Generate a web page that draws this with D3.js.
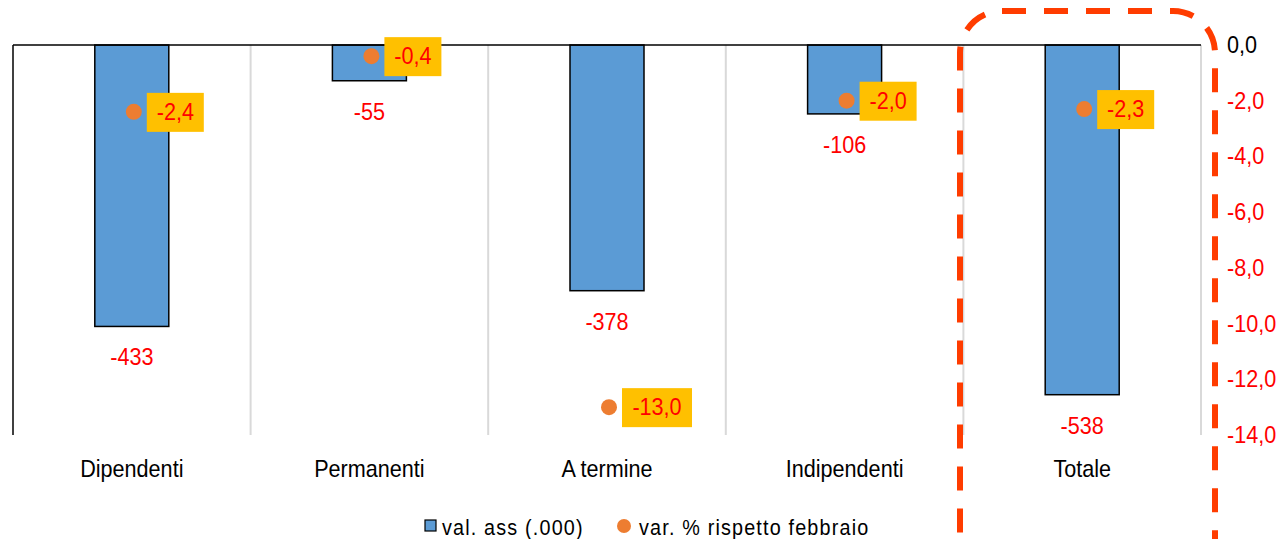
<!DOCTYPE html>
<html>
<head>
<meta charset="utf-8">
<script src="https://cdn.jsdelivr.net/npm/d3@7"></script>
<style>
  body { margin: 0; background: #fff; }
  svg { display: block; font-family: "Liberation Sans", Arial, sans-serif; }
</style>
</head>
<body>
<svg id="chart"></svg>
<script>
const width = 1280;
const height = 539;

// data
const categories = ["Dipendenti", "Permanenti", "A termine", "Indipendenti", "Totale"];
const absValues = [-433, -55, -378, -106, -538];
const pctValues = [-2.4, -0.4, -13.0, -2.0, -2.3];
const rightTicks = [0, -2, -4, -6, -8, -10, -12, -14];
const legendLabels = ["val. ass (.000)", "var. % rispetto febbraio"];

const fmt = v => d3.format(".1f")(v).replace(".", ",").replace("−", "-");
// the original uses a narrow face, so squeeze the text horizontally
const narrow = 0.9;
const place = (px, py) => `translate(${px},${py}) scale(${narrow},1)`;

const svg = d3.select("#chart")
    .attr("width", width)
    .attr("height", height)
    .attr("viewBox", [0, 0, width, height]);

const plotLeft = 13, plotRight = 1201, plotTop = 45, plotBottom = 435;

const x = d3.scaleBand()
    .domain(categories)
    .range([plotLeft, plotRight]);

// left (hidden) axis for absolute values, right axis for percentages
const yAbs = d3.scaleLinear().domain([0, -600]).range([plotTop, plotBottom]);
const yPct = d3.scaleLinear().domain([0, -14]).range([plotTop, plotBottom]);

// vertical gridlines between categories
svg.append("g")
    .selectAll("line")
    .data(categories.slice(1).concat(["end"]))
    .join("line")
    .attr("x1", (d, i) => plotLeft + x.bandwidth() * (i + 1))
    .attr("x2", (d, i) => plotLeft + x.bandwidth() * (i + 1))
    .attr("y1", plotTop)
    .attr("y2", plotBottom)
    .attr("stroke", "#d9d9d9")
    .attr("stroke-width", 2);

// bars
const barW = 74;
svg.append("g")
    .selectAll("rect")
    .data(absValues)
    .join("rect")
    .attr("x", (d, i) => x(categories[i]) + x.bandwidth() / 2 - barW / 2)
    .attr("y", yAbs(0))
    .attr("width", barW)
    .attr("height", d => yAbs(d) - yAbs(0))
    .attr("fill", "#5b9bd5")
    .attr("stroke", "#000")
    .attr("stroke-width", 1.5);

// left axis line and zero line
svg.append("line")
    .attr("x1", plotLeft).attr("x2", plotLeft)
    .attr("y1", plotTop).attr("y2", plotBottom)
    .attr("stroke", "#000").attr("stroke-width", 1.5);
svg.append("line")
    .attr("x1", plotLeft).attr("x2", plotRight)
    .attr("y1", yAbs(0)).attr("y2", yAbs(0))
    .attr("stroke", "#000").attr("stroke-width", 1.5);

// bar value labels
svg.append("g")
    .selectAll("text")
    .data(absValues)
    .join("text")
    .attr("transform", (d, i) => place(x(categories[i]) + x.bandwidth() / 2, yAbs(d) + 39))
    .attr("text-anchor", "middle")
    .attr("font-size", 24)
    .attr("fill", "#ff0000")
    .text(d => d);

// category labels
svg.append("g")
    .selectAll("text")
    .data(categories)
    .join("text")
    .attr("transform", d => place(x(d) + x.bandwidth() / 2, 477))
    .attr("text-anchor", "middle")
    .attr("font-size", 24)
    .attr("fill", "#000")
    .text(d => d);

// right axis labels
svg.append("g")
    .selectAll("text")
    .data(rightTicks)
    .join("text")
    .attr("transform", d => place(1227, yPct(d) + 8))
    .attr("font-size", 24)
    .attr("fill", d => d === 0 ? "#000" : "#ff0000")
    .text(fmt);

// percentage points with labels
const pts = svg.append("g")
    .selectAll("g")
    .data(pctValues)
    .join("g")
    .attr("transform", (d, i) => `translate(${x(categories[i]) + x.bandwidth() / 2 + 2},${yPct(d)})`);

pts.append("circle")
    .attr("r", 8)
    .attr("fill", "#ed7d31");

pts.append("rect")
    .attr("x", 13)
    .attr("y", -19)
    .attr("width", d => d <= -10 ? 70 : 57)
    .attr("height", 39)
    .attr("fill", "#ffc000");

pts.append("text")
    .attr("transform", d => place(13 + (d <= -10 ? 35 : 28.5), 8))
    .attr("text-anchor", "middle")
    .attr("font-size", 24)
    .attr("fill", "#ff0000")
    .text(fmt);

// dashed highlight around Totale
svg.append("rect")
    .attr("x", 960)
    .attr("y", 11)
    .attr("width", 255)
    .attr("height", 600)
    .attr("rx", 42)
    .attr("fill", "none")
    .attr("stroke", "#ff3c00")
    .attr("stroke-width", 6)
    .attr("stroke-dasharray", "24,18");

// legend
const legend = svg.append("g").attr("font-size", 22).attr("letter-spacing", 1.3);
legend.append("rect")
    .attr("x", 425).attr("y", 520)
    .attr("width", 11).attr("height", 11)
    .attr("fill", "#5b9bd5")
    .attr("stroke", "#000").attr("stroke-width", 1.2);
legend.append("text")
    .attr("transform", place(442, 535))
    .attr("fill", "#000")
    .text(legendLabels[0]);
legend.append("circle")
    .attr("cx", 624).attr("cy", 526).attr("r", 7)
    .attr("fill", "#ed7d31");
legend.append("text")
    .attr("transform", place(639, 535))
    .attr("fill", "#000")
    .text(legendLabels[1]);
</script>
</body>
</html>
